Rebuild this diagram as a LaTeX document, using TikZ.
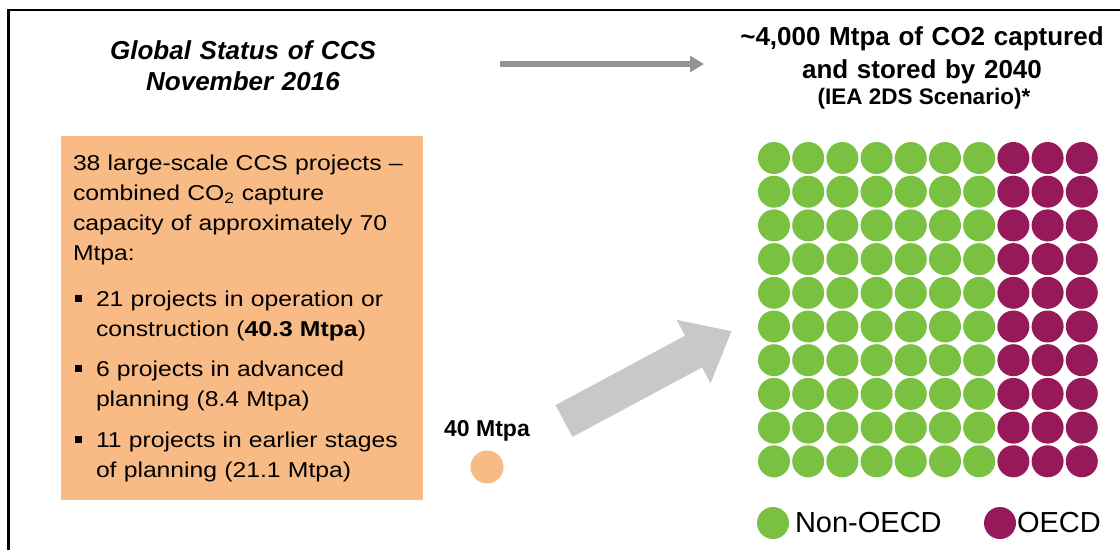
\documentclass[tikz,border=0pt]{standalone}
\usepackage{fontspec}
\setmainfont{Liberation Sans}
\newfontfamily\boxfont{Liberation Sans}[FakeStretch=1.15]
\usetikzlibrary{arrows.meta, positioning}

\definecolor{ccsorange}{HTML}{F9BB86}
\definecolor{ccsgreen}{HTML}{7AC142}
\definecolor{ccspurple}{HTML}{961A5A}
\definecolor{arrowgrey}{HTML}{C8C8CA}
\definecolor{linegrey}{HTML}{939393}

\begin{document}
\begin{tikzpicture}[
    x=1pt, y=-1pt,
    every node/.style={inner sep=0pt, outer sep=0pt},
    headline/.style={font=\fontsize{26}{33}\selectfont\bfseries, align=center, text width=420pt, anchor=base},
    boxtext/.style={font=\boxfont\fontsize{21.5}{30}\selectfont, align=left, text width=330pt, anchor=base west},
    bulletbox/.style={fill=black, minimum size=6.5pt, anchor=south west},
    dot/.style={circle, minimum size=32pt},
    legend/.style={font=\fontsize{29}{34}\selectfont},
    thinarrow/.style={-{Triangle[length=14pt, width=16pt]}, line width=5.5pt, linegrey}
]
\useasboundingbox (0,0) rectangle (1120,550);

% frame
\draw[line width=2.5pt] (8.5,550) -- (8.5,10) -- (1120,10);

% titles
\node[headline, font=\fontsize{26}{31}\selectfont\bfseries\itshape] (status) at (243,59) {Global Status of CCS\\November 2016};
\node[headline] (target) at (922,45) {\textasciitilde 4,000 Mtpa of CO2 captured\\and stored by 2040};
\node[font=\fontsize{22.5}{25}\selectfont\bfseries, anchor=base] (scenario) at (924,104) {(IEA 2DS Scenario)*};

\coordinate (thinA) at (500,64);
\coordinate (thinB) at (704,64);
\draw[thinarrow] (thinA) -- (thinB);

% orange summary box
\node[fill=ccsorange, minimum width=362pt, minimum height=364pt, anchor=north west] (summary) at (61,136) {};
\node[boxtext] (intro) at (73,170) {38 large-scale CCS projects \textendash\\combined CO\textsubscript{2} capture\\capacity of approximately 70\\Mtpa:};
\node[boxtext] (oper) at (96,306) {21 projects in operation or\\construction (\textbf{40.3 Mtpa})};
\node[boxtext] (adv) at (96,376) {6 projects in advanced\\planning (8.4 Mtpa)};
\node[boxtext] (early) at (96,447) {11 projects in earlier stages\\of planning (21.1 Mtpa)};
\foreach \item in {oper, adv, early}
  \node[bulletbox] (bul-\item) at ([xshift=-21pt, yshift=4.5pt]\item.base west) {};

% today
\node[dot, fill=ccsorange, minimum size=33pt] (today) at (487,467) {};
\node[font=\fontsize{23}{28}\selectfont\bfseries, above=9pt of today] (todaylabel) {40 Mtpa};

% big arrow
\fill[arrowgrey, shift={(564,421)}, rotate=28.2] (0,18) -- (147,18) -- (147,36) -- (190,0) -- (147,-36) -- (147,-18) -- (0,-18) -- cycle;

% 2040 grid, 10 x 10
\foreach \col in {0,...,9}{
  \foreach \row in {0,...,9}{
    \ifnum\col<7 \def\dotcol{ccsgreen}\else\def\dotcol{ccspurple}\fi
    \node[dot, fill=\dotcol] (d-\col-\row) at (774+34.2*\col, 158+33.7*\row) {};
  }
}

% legend
\node[dot, fill=ccsgreen] (keyA) at (773,523) {};
\node[legend, right=6pt of keyA] (keyAtext) {Non-OECD};
\node[dot, fill=ccspurple] (keyB) at (1000,523) {};
\node[legend, right=1pt of keyB] (keyBtext) {OECD};

\end{tikzpicture}
\end{document}
